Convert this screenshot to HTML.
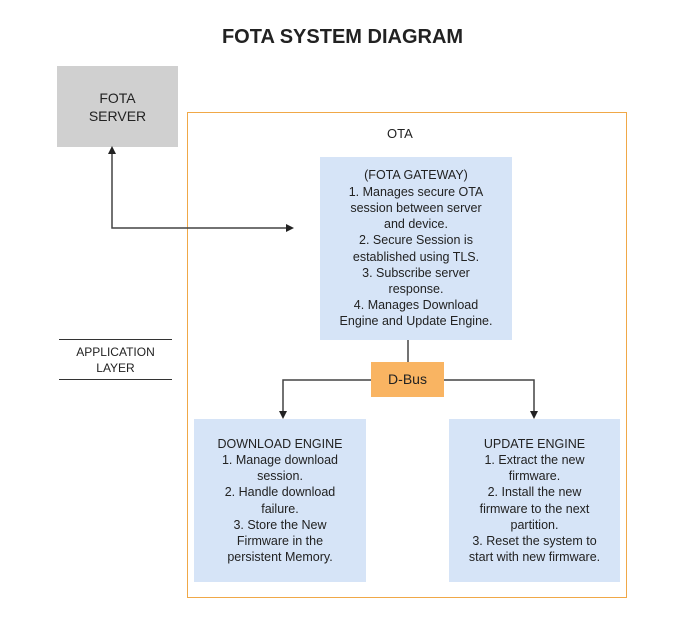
<!DOCTYPE html>
<html><head><style>
body{margin:0;width:697px;height:624px;background:#fff;position:relative;font-family:"Liberation Sans",Arial,sans-serif;color:#222;overflow:hidden}
.a{position:absolute;box-sizing:border-box}
.t{display:flex;align-items:center;justify-content:center;text-align:center;font-size:12.5px;line-height:16.2px;white-space:nowrap}
.bl{background:#d6e4f7}
</style></head><body>
<div class="a" style="left:0;top:26px;width:685px;text-align:center;font-weight:bold;font-size:20px">FOTA SYSTEM DIAGRAM</div>
<div class="a t" style="left:57px;top:66px;width:121px;height:81px;background:#d0d0d0;font-size:14px;line-height:18px">FOTA<br>SERVER</div>
<div class="a" style="left:187px;top:112px;width:440px;height:486px;border:1.5px solid #f0a848"></div>
<div class="a" style="left:387px;top:126px;font-size:13px">OTA</div>
<div class="a t bl" style="left:320px;top:157px;width:192px;height:183px">(FOTA GATEWAY)<br>1. Manages secure OTA<br>session between server<br>and device.<br>2. Secure Session is<br>established using TLS.<br>3. Subscribe server<br>response.<br>4. Manages Download<br>Engine and Update Engine.</div>
<div class="a t" style="left:371px;top:362px;width:73px;height:35px;background:#f9b462;font-size:14px">D-Bus</div>
<div class="a t bl" style="left:194px;top:419px;width:172px;height:163px">DOWNLOAD ENGINE<br>1. Manage download<br>session.<br>2. Handle download<br>failure.<br>3. Store the New<br>Firmware in the<br>persistent Memory.</div>
<div class="a t bl" style="left:449px;top:419px;width:171px;height:163px">UPDATE ENGINE<br>1. Extract the new<br>firmware.<br>2. Install the new<br>firmware to the next<br>partition.<br>3. Reset the system to<br>start with new firmware.</div>
<div class="a t" style="left:59px;top:339px;width:113px;height:41px;border-top:1.5px solid #333;border-bottom:1.5px solid #333;font-size:12px;line-height:16px">APPLICATION<br>LAYER</div>
<svg class="a" style="left:0;top:0" width="697" height="624">
<g stroke="#444" stroke-width="1.5" fill="none">
<polyline points="112,152 112,228 288,228"/>
<line x1="408" y1="340" x2="408" y2="362"/>
<polyline points="371,380 283,380 283,414"/>
<polyline points="444,380 534,380 534,414"/>
</g>
<g fill="#222">
<polygon points="112,146 108,154 116,154"/>
<polygon points="294,228 286,224 286,232"/>
<polygon points="283,419 279,411 287,411"/>
<polygon points="534,419 530,411 538,411"/>
</g>
</svg>
</body></html>
